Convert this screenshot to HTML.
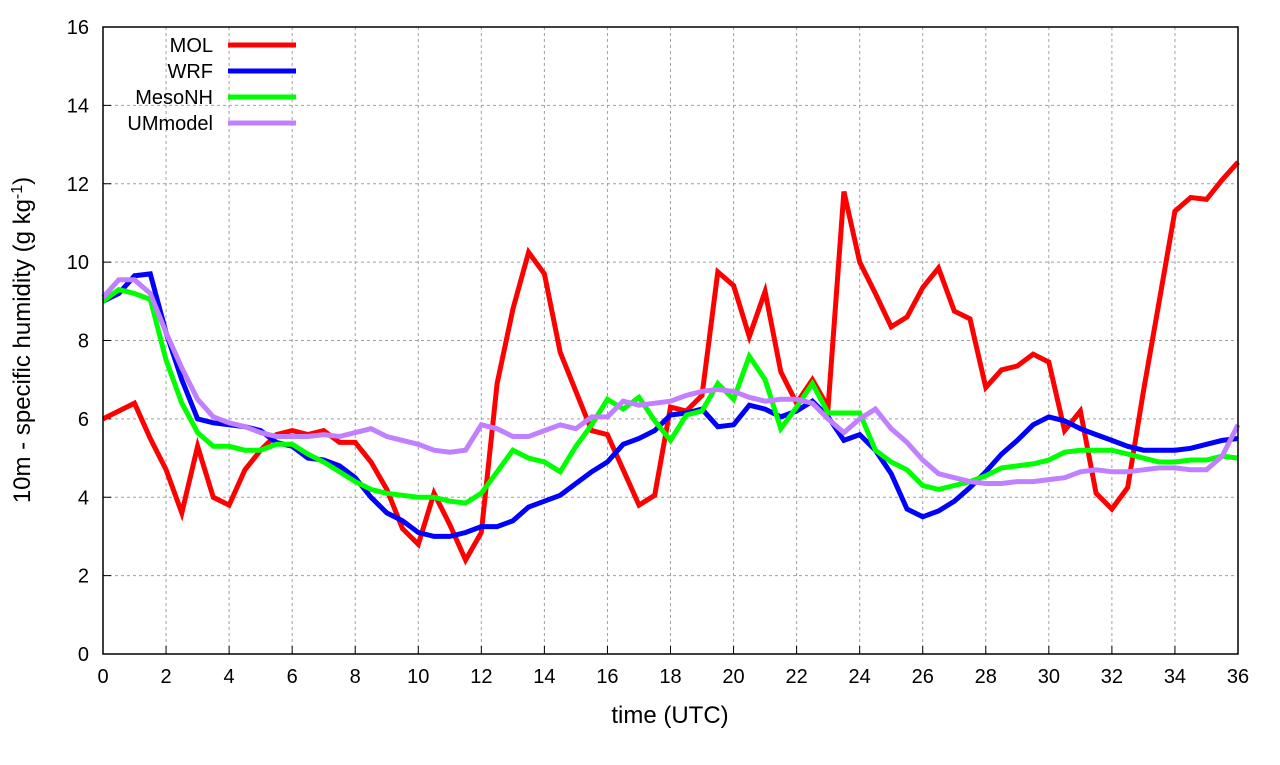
<!DOCTYPE html>
<html><head><meta charset="utf-8"><style>
body{margin:0;background:#fff;font-family:"Liberation Sans",sans-serif}
svg text{font-family:"Liberation Sans",sans-serif}
</style></head><body>
<svg id="chart" width="1280" height="760" xmlns="http://www.w3.org/2000/svg">
<g id="grid"></g>
<g id="ticks"></g>
<g id="series"></g>
<rect x="103" y="27" width="1135" height="627" fill="none" stroke="#000" stroke-width="1.5"/>
<text x="670" y="723" font-size="24" text-anchor="middle">time (UTC)</text>
<text transform="translate(30,340) rotate(-90)" font-size="24" text-anchor="middle">10m - specific humidity (g kg<tspan baseline-shift="super" font-size="16">-1</tspan>)</text>
<g id="legend"></g>
</svg>
<script>
const times = [];
for (let i = 0; i <= 72; i++) times.push(i * 0.5);
const xTicks = [0,2,4,6,8,10,12,14,16,18,20,22,24,26,28,30,32,34,36];
const yTicks = [0,2,4,6,8,10,12,14,16];
const seriesNames = ["MOL","WRF","MesoNH","UMmodel"];
const seriesColors = ["#ff0000","#0000ff","#00ff00","#c080ff"];
const molValues = [6.0,6.2,6.4,5.5,4.7,3.6,5.3,4.0,3.8,4.7,5.2,5.6,5.7,5.6,5.7,5.4,5.4,4.9,4.2,3.2,2.8,4.1,3.3,2.4,3.1,6.9,8.8,10.25,9.7,7.7,6.7,5.7,5.6,4.7,3.8,4.05,6.3,6.2,6.6,9.75,9.4,8.1,9.25,7.2,6.4,7.0,6.3,11.8,10.0,9.2,8.35,8.6,9.35,9.85,8.75,8.55,6.8,7.25,7.35,7.65,7.45,5.7,6.2,4.1,3.7,4.25,6.7,9.0,11.3,11.65,11.6,12.1,12.55];
const wrfValues = [9.0,9.2,9.65,9.7,8.2,7.0,6.0,5.9,5.85,5.8,5.7,5.4,5.3,5.0,4.95,4.8,4.5,4.0,3.6,3.4,3.1,3.0,3.0,3.1,3.25,3.25,3.4,3.75,3.9,4.05,4.35,4.65,4.9,5.35,5.5,5.7,6.1,6.15,6.25,5.8,5.85,6.35,6.25,6.05,6.2,6.45,6.05,5.45,5.6,5.2,4.6,3.7,3.5,3.65,3.9,4.25,4.65,5.1,5.45,5.85,6.05,5.95,5.75,5.6,5.45,5.3,5.2,5.2,5.2,5.25,5.35,5.45,5.5];
const mesonhValues = [9.0,9.3,9.2,9.05,7.5,6.4,5.65,5.3,5.3,5.2,5.2,5.35,5.35,5.1,4.9,4.65,4.4,4.2,4.1,4.05,4.0,4.0,3.9,3.85,4.1,4.65,5.2,5.0,4.9,4.65,5.3,5.85,6.5,6.25,6.55,5.95,5.45,6.1,6.2,6.9,6.5,7.6,7.0,5.75,6.3,6.9,6.15,6.15,6.15,5.2,4.9,4.7,4.3,4.2,4.3,4.4,4.55,4.75,4.8,4.85,4.95,5.15,5.2,5.2,5.2,5.1,5.0,4.9,4.9,4.95,4.95,5.05,5.0];
const umValues = [9.1,9.55,9.55,9.2,8.2,7.3,6.5,6.05,5.9,5.8,5.65,5.55,5.55,5.55,5.6,5.55,5.65,5.75,5.55,5.45,5.35,5.2,5.15,5.2,5.85,5.75,5.55,5.55,5.7,5.85,5.75,6.05,6.05,6.45,6.35,6.4,6.45,6.6,6.7,6.75,6.7,6.55,6.45,6.5,6.5,6.4,6.0,5.65,6.0,6.25,5.75,5.4,4.95,4.6,4.5,4.4,4.35,4.35,4.4,4.4,4.45,4.5,4.65,4.7,4.65,4.65,4.7,4.75,4.75,4.7,4.7,5.05,5.85];

const X0=103,X1=1238,Y0=654,Y1=27;
const xs = v => X0 + (v-0)/36*(X1-X0);
const ys = v => Y0 - (v-0)/16*(Y0-Y1);
const NS="http://www.w3.org/2000/svg";
function mk(tag, attrs, parent){const e=document.createElementNS(NS,tag);for(const k in attrs)e.setAttribute(k,attrs[k]);parent.appendChild(e);return e;}
const grid=document.getElementById('grid'), ticks=document.getElementById('ticks');
xTicks.forEach(t=>{
  const x=xs(t);
  if(t>0&&t<36){const g=mk('line',{x1:x,x2:x,y1:Y1,y2:Y0,stroke:'#a0a0a0','stroke-dasharray':'3,3'},grid);
  
  }
  const l=mk('line',{x1:x,x2:x,y1:Y0,y2:Y0-8,stroke:'#000'},ticks);
  
  
  const tx=mk('text',{x:x,y:Y0+29,'font-size':20,'text-anchor':'middle'},ticks);tx.textContent=t;
  
  
});
yTicks.forEach(t=>{
  const y=ys(t);
  if(t>0&&t<16){const g=mk('line',{x1:X0,x2:X1,y1:y,y2:y,stroke:'#a0a0a0','stroke-dasharray':'3,3'},grid);
  
  }
  const l=mk('line',{x1:X0,x2:X0+8,y1:y,y2:y,stroke:'#000'},ticks);
  
  
  const tx=mk('text',{x:X0-14,y:y+7,'font-size':20,'text-anchor':'end'},ticks);tx.textContent=t;
  
  
});
const allSeries=[molValues,wrfValues,mesonhValues,umValues];
const series=document.getElementById('series'), legend=document.getElementById('legend');
allSeries.forEach((vals,i)=>{
  const pts=vals.map((v,j)=>xs(times[j]).toFixed(1)+','+ys(v).toFixed(1)).join(' ');
  const p=mk('polyline',{points:pts,fill:'none',stroke:seriesColors[i],'stroke-width':5,'stroke-linejoin':'miter'},series);
  
  
  const ly=45+i*26;
  const t=mk('text',{x:213,y:ly+7,'font-size':20,'text-anchor':'end'},legend);t.textContent=seriesNames[i];
  
  
  const l=mk('line',{x1:228,x2:296,y1:ly,y2:ly,stroke:seriesColors[i],'stroke-width':5},legend);
  
  
});
</script>
</body></html>
